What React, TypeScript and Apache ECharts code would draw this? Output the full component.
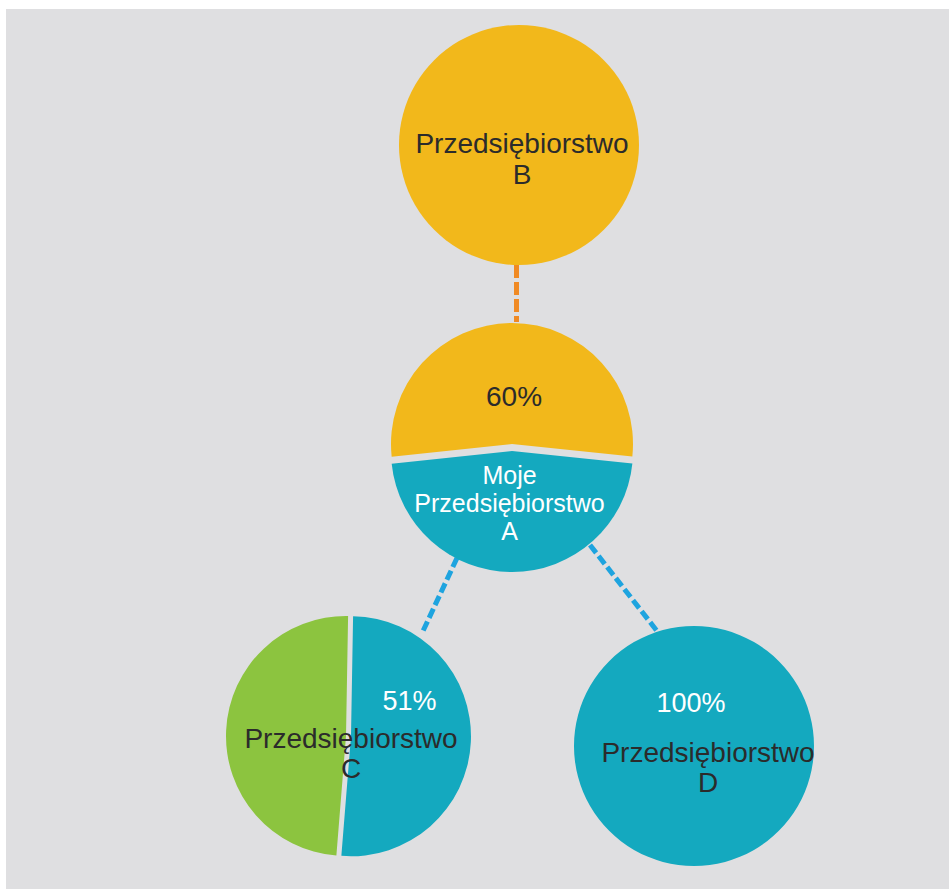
import React, { useEffect, useRef } from "react";
import * as echarts from "echarts";

// ---- data ----
const companyNames = ["Przedsiębiorstwo\nB", "Moje\nPrzedsiębiorstwo\nA", "Przedsiębiorstwo\nC", "Przedsiębiorstwo\nD"];
const shareLabels = ["60%", "51%", "100%"];
// drawn sector sizes (as they appear in the picture)
const splitA = [53.3, 46.7]; // yellow (B's share), teal (own)
const splitC = [51, 49]; // teal (A's share), green (others)
const splitB = [100];
const splitD = [100];

// ---- layout (pixels) ----
const W = 949;
const H = 889;
const nodes = {
  B: { c: [519, 145], r: 120 },
  A: { c: [512, 444], r: 121 },
  C: { c: [346, 736], r: 120 },
  D: { c: [694, 746], r: 120 },
};
const connectors = [
  { from: [516.5, 265], to: [516.5, 322], color: "#f08a24", dash: [13, 4] },
  { from: [457, 558], to: [423, 631], color: "#1ea4df", dash: [10, 4] },
  { from: [590, 545], to: [657, 631], color: "#1ea4df", dash: [10, 4] },
];

const YELLOW = "#f2b81b";
const TEAL = "#14a9bf";
const GREEN = "#8cc43f";
const DARK = "#2b2b2b";
const FONT = "'Liberation Sans', Arial, sans-serif";

export default function App() {
  const ref = useRef<HTMLDivElement>(null);
  useEffect(() => {
    if (!ref.current) return;
    const chart = echarts.init(ref.current, null, { renderer: "svg" });

    const pieBase = {
      type: "pie",
      silent: true,
      label: { show: false },
      labelLine: { show: false },
      emphasis: { disabled: true },
      itemStyle: { borderWidth: 0 },
      selectedMode: "multiple",
      z: 2,
    };

    const txt = (text: string, x: number, y: number, size: number, color: string, lh: number) => ({
      type: "text",
      x,
      y,
      z: 10,
      style: {
        text,
        fill: color,
        font: `${size}px ${FONT}`,
        fontSize: size,
        fontFamily: FONT,
        align: "center",
        verticalAlign: "middle",
        lineHeight: lh,
      },
    });

    chart.setOption({
      animation: false,
      backgroundColor: "#ffffff",
      grid: { left: 0, top: 0, right: 0, bottom: 0 },
      xAxis: { type: "value", min: 0, max: W, show: false },
      yAxis: { type: "value", min: 0, max: H, inverse: true, show: false },
      graphic: [
        {
          type: "rect",
          shape: { x: 6, y: 9, width: W - 6, height: H - 9 },
          style: { fill: "#dfdfe1" },
          z: -10,
          silent: true,
        },
        txt(companyNames[0], 522, 158.8, 28, DARK, 31),
        txt(shareLabels[0], 514, 396.3, 28, DARK, 30),
        txt(companyNames[1], 509.5, 503.3, 25, "#ffffff", 28),
        txt(shareLabels[1], 409.5, 700.6, 27, "#ffffff", 30),
        txt(companyNames[2], 351, 753.3, 28, DARK, 30),
        txt(shareLabels[2], 691, 702.6, 27, "#ffffff", 30),
        txt(companyNames[3], 708, 767.3, 28, DARK, 30),
      ],
      series: [
        {
          type: "lines",
          coordinateSystem: "cartesian2d",
          silent: true,
          z: 1,
          data: connectors.map((c) => ({
            coords: [c.from, c.to],
            lineStyle: { color: c.color, width: 5, type: c.dash, opacity: 1, curveness: 0 },
          })),
          lineStyle: { width: 5, opacity: 1 },
        },
        {
          ...pieBase,
          center: nodes.B.c,
          radius: [0, nodes.B.r],
          data: splitB.map((v) => ({ value: v, itemStyle: { color: YELLOW } })),
        },
        {
          ...pieBase,
          center: nodes.A.c,
          radius: [0, nodes.A.r],
          startAngle: 186,
          selectedOffset: 7,
          data: [
            { value: splitA[0], itemStyle: { color: YELLOW } },
            { value: splitA[1], itemStyle: { color: TEAL }, selected: true },
          ],
        },
        {
          ...pieBase,
          center: nodes.C.c,
          radius: [0, nodes.C.r],
          startAngle: 89,
          selectedOffset: 5,
          data: [
            { value: splitC[0], itemStyle: { color: TEAL }, selected: true },
            { value: splitC[1], itemStyle: { color: GREEN } },
          ],
        },
        {
          ...pieBase,
          center: nodes.D.c,
          radius: [0, nodes.D.r],
          data: splitD.map((v) => ({ value: v, itemStyle: { color: TEAL } })),
        },
      ],
    });
    return () => chart.dispose();
  }, []);
  return (
    <div
      ref={ref}
      style={{ position: "fixed", left: 0, top: 0, width: W, height: H }}
    />
  );
}
